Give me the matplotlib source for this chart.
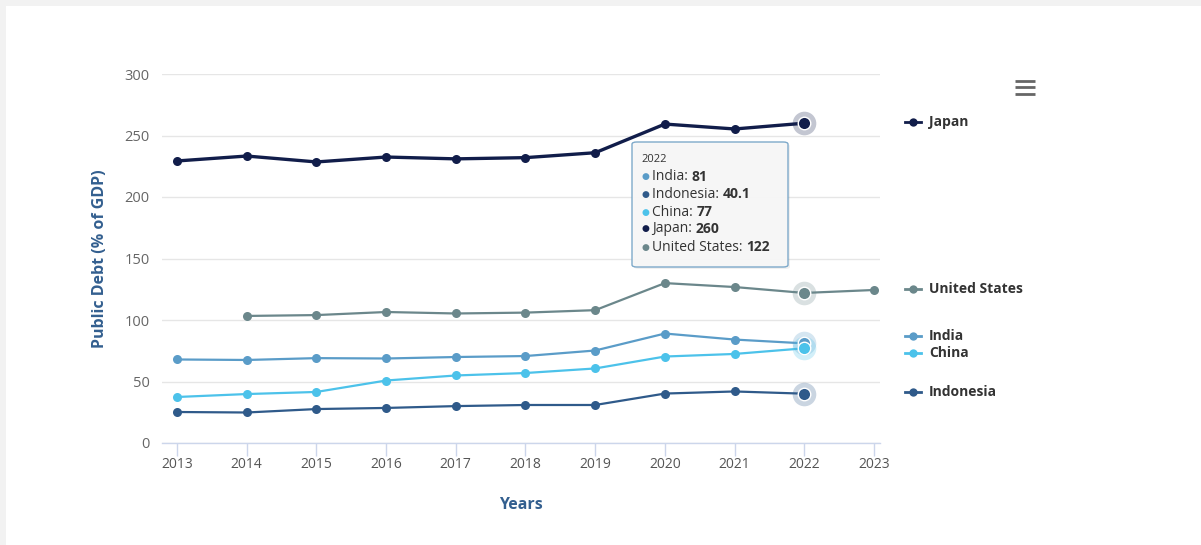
import numpy as np
import matplotlib
matplotlib.use("Agg")
import matplotlib.pyplot as plt
from matplotlib.patches import FancyBboxPatch, Rectangle
from matplotlib.lines import Line2D

plt.rcParams['font.family'] = ['Open Sans', 'DejaVu Sans']

years = [2013, 2014, 2015, 2016, 2017, 2018, 2019, 2020, 2021, 2022, 2023]
japan = [229.3, 233.3, 228.5, 232.5, 231.0, 232.0, 236.0, 259.3, 255.3, 260.0, np.nan]
united_states = [np.nan, 103.3, 104.0, 106.5, 105.3, 106.0, 108.0, 130.0, 126.8, 122.0, 124.4]
india = [67.9, 67.5, 69.0, 68.7, 69.9, 70.7, 75.2, 89.0, 84.1, 81.0, np.nan]
china = [37.4, 39.8, 41.5, 50.8, 54.9, 56.9, 60.6, 70.3, 72.4, 77.0, np.nan]
indonesia = [25.2, 24.8, 27.6, 28.5, 30.0, 30.9, 30.9, 40.2, 41.9, 40.1, np.nan]

series_names = ["India", "Indonesia", "China", "Japan", "United States"]
series_values = [india, indonesia, china, japan, united_states]
colors = {"Japan": "#111d4a", "United States": "#6b878b", "India": "#5a9cc8",
          "China": "#4cc2ea", "Indonesia": "#2f5a8a"}
widths = {"Japan": 2.4, "United States": 1.6, "India": 1.6, "China": 1.6, "Indonesia": 1.6}

hover_year = 2022
tooltip_values = ["81", "40.1", "77", "260", "122"]

legend_order = ["Japan", "United States", "India", "China", "Indonesia"]
legend_ypx = [122, 289, 336, 353, 392]

W, H = 1201, 545
fig = plt.figure(figsize=(W / 100, H / 100), dpi=100)
fig.patch.set_facecolor("#f2f2f2")
fig.add_artist(Rectangle((6 / W, 0), 1, 1 - 6 / H, transform=fig.transFigure,
                         facecolor="white", edgecolor="none", zorder=0))

def fx(px):
    return px / W

def fy(py):
    return 1 - py / H

ax = fig.add_axes([fx(162), fy(443), fx(880) - fx(162), fy(74) - fy(443)])
ax.set_facecolor("none")
ax.set_xlim(2012.785, 2023.086)
ax.set_ylim(0, 300)
ax.set_yticks([0, 50, 100, 150, 200, 250, 300])
ax.set_xticks(years)
ax.grid(axis="y", color="#e6e6e6", linewidth=1)
ax.set_axisbelow(True)
for s in ["top", "right", "left"]:
    ax.spines[s].set_visible(False)
ax.spines["bottom"].set_color("#ccd6eb")
ax.spines["bottom"].set_linewidth(1)
ax.tick_params(axis="y", length=0, labelsize=10.5, labelcolor="#666666", pad=9)
ax.tick_params(axis="x", length=9, color="#ccd6eb", width=1, labelsize=10,
               labelcolor="#555555", pad=1)
ax.set_ylabel("Public Debt (% of GDP)", fontsize=11.5, fontweight="bold",
              color="#335f8f", labelpad=12)
ax.set_xlabel("Years", fontsize=11.5, fontweight="bold", color="#335f8f", labelpad=18)

for name, vals in zip(series_names, series_values):
    c = colors[name]
    ax.plot(years, vals, color=c, linewidth=widths[name], marker="o",
            markersize=6.5, markeredgewidth=0, zorder=3)
    idx = years.index(hover_year)
    v = vals[idx]
    ax.plot([hover_year], [v], marker="o", markersize=17, color=c, alpha=0.25,
            markeredgewidth=0, zorder=4)
    ax.plot([hover_year], [v], marker="o", markersize=9, color=c,
            markeredgecolor="white", markeredgewidth=1, zorder=5)

# Legend (right side)
for name, ypx in zip(legend_order, legend_ypx):
    c = colors[name]
    fig.add_artist(Line2D([fx(905), fx(921)], [fy(ypx), fy(ypx)], color=c, linewidth=2,
                          transform=fig.transFigure))
    fig.add_artist(Line2D([fx(913)], [fy(ypx)], color=c, marker="o", markersize=6,
                          markeredgewidth=0, transform=fig.transFigure))
    fig.text(fx(929), fy(ypx), name, fontsize=10, fontweight="bold", color="#333333",
             va="center", ha="left")

# Hamburger menu icon
for ypx in [81, 87, 94]:
    fig.add_artist(Line2D([fx(1015), fx(1035)], [fy(ypx), fy(ypx)], color="#666666",
                          linewidth=2.0, solid_capstyle="butt",
                          transform=fig.transFigure))

# Tooltip
shadow = FancyBboxPatch((fx(634), fy(269)), fx(788) - fx(632), fy(142) - fy(267),
                        boxstyle="round,pad=0,rounding_size=0.004",
                        transform=fig.transFigure, facecolor="#000000", alpha=0.06,
                        edgecolor="none", zorder=9)
fig.add_artist(shadow)
box = FancyBboxPatch((fx(632), fy(267)), fx(788) - fx(632), fy(142) - fy(267),
                     boxstyle="round,pad=0,rounding_size=0.004",
                     transform=fig.transFigure, facecolor="#f7f7f7", alpha=0.97,
                     edgecolor="#7aa7c8", linewidth=1, zorder=10)
fig.add_artist(box)
fig.text(fx(641), fy(159), str(hover_year), fontsize=8, color="#333333",
         va="center", ha="left", zorder=11)
row_y = [177, 194, 212, 229, 247]
fig.canvas.draw()
renderer = fig.canvas.get_renderer()
for name, val, ypx in zip(series_names, tooltip_values, row_y):
    fig.text(fx(641), fy(ypx), "\u25CF", fontsize=6.5, color=colors[name],
             va="center", ha="left", zorder=11)
    t = fig.text(fx(652), fy(ypx), name + ": ", fontsize=10, color="#333333",
                 va="center", ha="left", zorder=11)
    bb = t.get_window_extent(renderer=renderer)
    fig.text(bb.x1 / W, fy(ypx), val, fontsize=10, fontweight="bold",
             color="#333333", va="center", ha="left", zorder=11)

fig.savefig("out.png", dpi=100)
